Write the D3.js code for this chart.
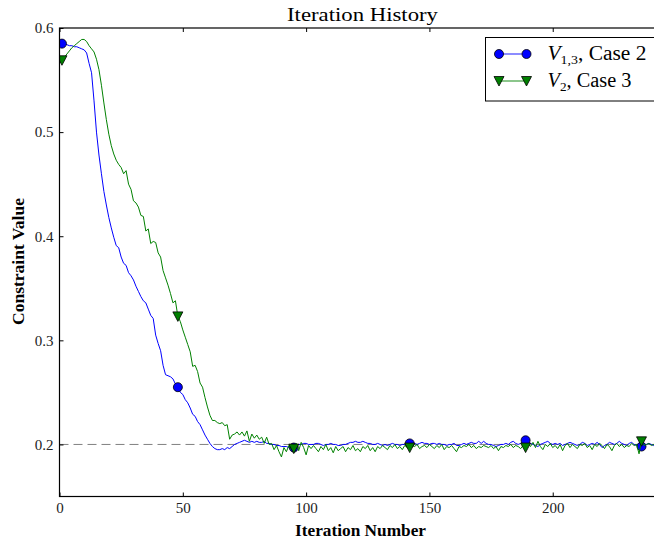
<!DOCTYPE html>
<html>
<head>
<meta charset="utf-8">
<script src="https://cdn.jsdelivr.net/npm/d3@7"></script>
<style>
  html, body { margin: 0; padding: 0; background: #fff; }
  svg { display: block; font-family: "Liberation Serif", "DejaVu Serif", serif; }
</style>
</head>
<body>
<svg id="chart" width="654" height="543"></svg>
<script>
// Constraint history over the optimisation iterations (iteration 1 onward)
const caseTwoV13 = [
  0.585,0.585,0.584,0.583,0.583,0.582,0.582,0.581,0.580,0.579,
  0.576,0.566,0.557,0.530,0.500,0.478,0.460,0.443,0.430,0.418,
  0.408,0.399,0.391,0.389,0.380,0.374,0.372,0.365,0.362,0.358,
  0.352,0.347,0.342,0.338,0.336,0.330,0.324,0.321,0.305,0.297,
  0.290,0.276,0.267,0.266,0.265,0.263,0.258,0.255,0.250,0.248,
  0.243,0.240,0.235,0.229,0.227,0.222,0.219,0.214,0.209,0.205,
  0.201,0.198,0.196,0.195,0.195,0.196,0.195,0.197,0.196,0.198,
  0.200,0.201,0.202,0.203,0.204,0.203,0.202,0.203,0.202,0.203,
  0.202,0.202,0.203,0.201,0.201,0.200,0.200,0.199,0.199,0.198,
  0.198,0.198,0.197,0.197,0.197,0.199,0.200,0.200,0.201,0.201,
  0.200,0.200,0.200,0.201,0.201,0.200,0.199,0.200,0.200,0.201,
  0.200,0.200,0.199,0.199,0.200,0.200,0.201,0.202,0.202,0.203,
  0.202,0.202,0.203,0.202,0.201,0.201,0.200,0.200,0.201,0.200,
  0.199,0.200,0.199,0.200,0.201,0.200,0.200,0.199,0.200,0.200,
  0.201,0.201,0.201,0.201,0.200,0.201,0.202,0.201,0.201,0.200,
  0.201,0.201,0.200,0.201,0.200,0.200,0.199,0.200,0.200,0.201,
  0.199,0.199,0.200,0.201,0.200,0.201,0.202,0.201,0.201,0.203,
  0.201,0.203,0.201,0.200,0.200,0.199,0.198,0.199,0.200,0.200,
  0.201,0.200,0.202,0.203,0.201,0.200,0.201,0.203,0.204,0.202,
  0.201,0.200,0.199,0.198,0.200,0.201,0.202,0.203,0.201,0.200,
  0.201,0.200,0.201,0.199,0.200,0.201,0.202,0.201,0.200,0.199,
  0.200,0.202,0.201,0.199,0.200,0.201,0.200,0.202,0.200,0.197,
  0.199,0.200,0.202,0.201,0.200,0.201,0.203,0.201,0.200,0.199,
  0.201,0.202,0.200,0.199,0.198,0.198,0.199,0.200,0.201,0.200,
  0.199,0.201,0.200,0.200,0.201
];

const caseThreeV2 = [
  0.569,0.572,0.575,0.578,0.581,0.583,0.585,0.587,0.589,0.589,
  0.587,0.583,0.580,0.577,0.570,0.560,0.545,0.528,0.512,0.498,
  0.487,0.479,0.473,0.469,0.466,0.460,0.463,0.450,0.445,0.434,
  0.432,0.428,0.420,0.419,0.405,0.407,0.393,0.395,0.394,0.384,
  0.380,0.367,0.360,0.353,0.345,0.336,0.338,0.323,0.318,0.310,
  0.303,0.296,0.289,0.275,0.276,0.270,0.259,0.255,0.245,0.236,
  0.228,0.223,0.223,0.221,0.220,0.221,0.218,0.219,0.205,0.209,
  0.210,0.212,0.209,0.212,0.208,0.213,0.203,0.210,0.206,0.209,
  0.205,0.207,0.201,0.207,0.200,0.201,0.195,0.199,0.193,0.188,
  0.197,0.193,0.199,0.195,0.196,0.201,0.194,0.202,0.197,0.190,
  0.199,0.196,0.199,0.196,0.193,0.198,0.195,0.200,0.194,0.197,
  0.192,0.198,0.194,0.196,0.198,0.193,0.197,0.195,0.199,0.194,
  0.196,0.193,0.198,0.196,0.199,0.194,0.197,0.193,0.198,0.196,
  0.199,0.197,0.195,0.199,0.197,0.200,0.196,0.198,0.195,0.199,
  0.197,0.197,0.199,0.198,0.200,0.196,0.198,0.199,0.197,0.200,
  0.198,0.196,0.199,0.197,0.200,0.195,0.198,0.197,0.199,0.196,
  0.193,0.198,0.197,0.199,0.198,0.200,0.197,0.199,0.196,0.198,
  0.197,0.199,0.198,0.197,0.199,0.196,0.198,0.194,0.198,0.197,
  0.199,0.198,0.200,0.197,0.199,0.198,0.196,0.199,0.197,0.201,
  0.198,0.202,0.197,0.203,0.198,0.195,0.200,0.198,0.201,0.197,
  0.199,0.196,0.200,0.194,0.199,0.201,0.197,0.200,0.198,0.196,
  0.200,0.199,0.201,0.197,0.199,0.195,0.200,0.198,0.201,0.199,
  0.196,0.200,0.198,0.194,0.199,0.201,0.198,0.200,0.197,0.199,
  0.198,0.201,0.199,0.200,0.191,0.203,0.199,0.200,0.201,0.199,
  0.200,0.198,0.200,0.199
];

const xTicks = [0, 50, 100, 150, 200];
const yTicks = [0.2, 0.3, 0.4, 0.5, 0.6];
const targetValue = 0.2;
const markerEvery = 47;

const svg = d3.select("#chart");
const plotLeft = 59.5, plotRight = 663.7, plotTop = 28, plotBottom = 496.5;

const x = d3.scaleLinear().domain([0, 245]).range([plotLeft, plotRight]);
const y = d3.scaleLinear().domain([0.15, 0.6]).range([plotBottom, plotTop]);

svg.append("defs").append("clipPath").attr("id", "plotArea")
  .append("rect").attr("x", plotLeft).attr("y", plotTop)
  .attr("width", plotRight - plotLeft).attr("height", plotBottom - plotTop);

const plot = svg.append("g").attr("clip-path", "url(#plotArea)");

// target level
plot.append("line")
  .attr("x1", plotLeft).attr("x2", plotRight)
  .attr("y1", y(targetValue)).attr("y2", y(targetValue))
  .attr("stroke", "#808080").attr("stroke-width", 1)
  .attr("stroke-dasharray", "9,5");

const series = [
  { values: caseTwoV13, color: "#0000ff", marker: "circle" },
  { values: caseThreeV2, color: "#008000", marker: "triangle" }
];

const line = d3.line().x(d => x(d[0])).y(d => y(d[1]));
const circleSym = d3.symbol().type(d3.symbolCircle).size(64);
const triPath = "M-5,-4.5L5,-4.5L0,5Z";

series.forEach(s => {
  const pts = s.values.map((v, i) => [i + 1, v]);
  plot.append("path").datum(pts)
    .attr("d", line).attr("fill", "none")
    .attr("stroke", s.color).attr("stroke-width", 1)
    .attr("stroke-linejoin", "round");
  const marks = pts.filter((p, i) => i % markerEvery === 0);
  plot.selectAll(null).data(marks).enter().append("path")
    .attr("transform", d => `translate(${x(d[0])},${y(d[1])})`)
    .attr("d", s.marker === "circle" ? circleSym() : triPath)
    .attr("fill", s.color).attr("stroke", "#000").attr("stroke-width", 0.8);
});

// axes with inward ticks
const fontSize = 15;
const xAxis = svg.append("g").attr("transform", `translate(0,${plotBottom})`)
  .call(d3.axisBottom(x).tickValues(xTicks).tickSize(-4).tickPadding(6).tickFormat(d3.format("d")));
const xTop = svg.append("g").attr("transform", `translate(0,${plotTop})`)
  .call(d3.axisTop(x).tickValues(xTicks).tickSize(-4).tickFormat(""));
const yAxis = svg.append("g").attr("transform", `translate(${plotLeft},0)`)
  .call(d3.axisLeft(y).tickValues(yTicks).tickSize(-4).tickPadding(6).tickFormat(d3.format(".1f")));

[xAxis, xTop, yAxis].forEach(g => {
  g.select(".domain").remove();
  g.selectAll(".tick line").attr("stroke", "#000").attr("stroke-width", 1);
  g.selectAll(".tick text").attr("fill", "#222")
    .style("font-family", "Liberation Serif, serif").style("font-size", fontSize + "px");
});

// frame
svg.append("rect").attr("x", plotLeft).attr("y", plotTop)
  .attr("width", plotRight - plotLeft).attr("height", plotBottom - plotTop)
  .attr("fill", "none").attr("stroke", "#000").attr("stroke-width", 1.2);

// title and axis labels
svg.append("text").attr("x", 362.5).attr("y", 21)
  .attr("text-anchor", "middle").style("font-size", "19px")
  .attr("textLength", 151).attr("lengthAdjust", "spacingAndGlyphs")
  .text("Iteration History");

svg.append("text").attr("x", 360.5).attr("y", 536)
  .attr("text-anchor", "middle").style("font-size", "16px").style("font-weight", "bold")
  .attr("textLength", 131).attr("lengthAdjust", "spacingAndGlyphs")
  .text("Iteration Number");

svg.append("text")
  .attr("transform", `translate(24,261.5) rotate(-90)`)
  .attr("text-anchor", "middle").style("font-size", "16px").style("font-weight", "bold")
  .attr("textLength", 127).attr("lengthAdjust", "spacingAndGlyphs")
  .text("Constraint Value");

// legend
const legend = svg.append("g");
legend.append("rect").attr("x", 485.5).attr("y", 37.5)
  .attr("width", 200).attr("height", 63.5)
  .attr("fill", "#fff").attr("stroke", "#000").attr("stroke-width", 1);

const legendRows = [
  { color: "#0000ff", line: "#6666ff", marker: "circle", sub: "1,3", label: ", Case 2", yy: 54, len: 99 },
  { color: "#008000", line: "#66b366", marker: "triangle", sub: "2", label: ", Case 3", yy: 81, len: 84 }
];
const textX = 547.5;
legendRows.forEach(r => {
  legend.append("line").attr("x1", 499).attr("x2", 526.5)
    .attr("y1", r.yy).attr("y2", r.yy).attr("stroke", r.line).attr("stroke-width", 1.5);
  [499, 526.5].forEach(px => {
    legend.append("path").attr("transform", `translate(${px},${r.yy})`)
      .attr("d", r.marker === "circle" ? circleSym() : triPath)
      .attr("fill", r.color).attr("stroke", "#000").attr("stroke-width", 0.8);
  });
  const g = legend.append("g");
  const t = g.append("text").attr("x", 0).attr("y", 0).style("font-size", "20px");
  t.append("tspan").style("font-style", "italic").text("V");
  t.append("tspan").attr("dy", 4).style("font-size", "13px").text(r.sub);
  t.append("tspan").attr("dy", -4).text(r.label);
  // widen the label horizontally to the set width
  const w = t.node().getBBox().width;
  g.attr("transform", `translate(${textX},${r.yy + 6}) scale(${r.len / w},1)`);
});
</script>
</body>
</html>
